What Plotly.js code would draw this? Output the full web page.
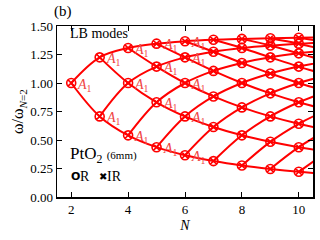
<!DOCTYPE html>
<html>
<head>
<meta charset="utf-8">
<script src="https://cdn.plot.ly/plotly-3.0.1.min.js"></script>
<style>html,body{margin:0;padding:0;background:#fff;}#chart{width:320px;height:240px;}</style>
</head>
<body>
<div id="chart"></div>
<script>
// Number of layers
const layers = [2, 3, 4, 5, 6, 7, 8, 9, 10, 11];
// LB mode frequencies (omega / omega_{N=2}) per layer count, lowest mode first
const w2  = [1.000];
const w3  = [0.707, 1.225];
const w4  = [0.541, 1.000, 1.307];
const w5  = [0.437, 0.831, 1.144, 1.345];
const w6  = [0.366, 0.707, 1.000, 1.225, 1.366];
const w7  = [0.315, 0.614, 0.882, 1.106, 1.274, 1.379];
const w8  = [0.276, 0.541, 0.786, 1.000, 1.176, 1.307, 1.387];
const w9  = [0.246, 0.484, 0.707, 0.909, 1.083, 1.225, 1.329, 1.393];
const w10 = [0.221, 0.437, 0.642, 0.831, 1.000, 1.144, 1.260, 1.345, 1.397];
// continuation past the right edge (only the curves, clipped by the axis)
const w11 = [0.201, 0.398, 0.588, 0.765, 0.926, 1.069, 1.190, 1.286, 1.357, 1.400];
// layer counts whose modes carry an A1 label
const labelledLayers = [2, 3, 4, 5, 6];
const modeLabel = '<i>A</i><sub>1</sub>';

const freqs = [w2, w3, w4, w5, w6, w7, w8, w9, w10, w11];
const shownMax = 10;

const RED = '#ff0000';
const FONT = 'Liberation Serif, Times New Roman, serif';
const traces = [];

// lower branches: fixed mode index j
for (let j = 0; j < freqs.length; j++) {
  const xs = [], ys = [];
  layers.forEach((n, i) => { if (freqs[i].length > j) { xs.push(n); ys.push(freqs[i][j]); } });
  if (xs.length > 1) traces.push({x: xs, y: ys, mode: 'lines', type: 'scatter',
    line: {color: RED, width: 2, shape: 'spline', smoothing: 1}, hoverinfo: 'skip', showlegend: false});
}
// upper branches: fixed (N - j)
for (let m = 1; m < layers.length + 1; m++) {
  const xs = [], ys = [];
  layers.forEach((n, i) => { const k = freqs[i].length - m; if (k >= 0) { xs.push(n); ys.push(freqs[i][k]); } });
  if (xs.length > 1) traces.push({x: xs, y: ys, mode: 'lines', type: 'scatter',
    line: {color: RED, width: 2, shape: 'spline', smoothing: 1}, hoverinfo: 'skip', showlegend: false});
}
// markers
const mx = [], my = [];
layers.forEach((n, i) => { if (n <= shownMax) freqs[i].forEach(v => { mx.push(n); my.push(v); }); });
traces.push({x: mx, y: my, mode: 'markers', type: 'scatter',
  marker: {symbol: 'circle-x-open', size: 9, color: RED, line: {color: RED, width: 1.6}},
  showlegend: false});

const annotations = [];
layers.forEach((n, i) => {
  if (labelledLayers.includes(n)) freqs[i].forEach(v => {
    annotations.push({x: n, y: v, xref: 'x', yref: 'y', text: modeLabel, showarrow: false,
      xanchor: 'left', yanchor: 'middle', xshift: 4, yshift: -2,
      font: {family: FONT, size: 14, color: '#f04545'}});
  });
});
annotations.push(
  {xref: 'paper', yref: 'paper', x: 0.023, y: 1.082, text: '(b)', showarrow: false,
   xanchor: 'center', yanchor: 'middle', font: {family: FONT, size: 15, color: '#000'}},
  {xref: 'paper', yref: 'paper', x: 0.043, y: 0.955, text: 'LB modes', showarrow: false,
   xanchor: 'left', yanchor: 'middle', font: {family: FONT, size: 14, color: '#000'}},
  {xref: 'paper', yref: 'paper', x: 0.043, y: 0.245, text: 'PtO<sub>2</sub> <span style="font-size:11px">(6mm)</span>', showarrow: false,
   xanchor: 'left', yanchor: 'middle', font: {family: FONT, size: 17, color: '#000'}},
  {xref: 'paper', yref: 'paper', x: 0.047, y: 0.118, text: '<b>O</b>', showarrow: false,
   xanchor: 'left', yanchor: 'middle', font: {family: 'DejaVu Sans', size: 11, color: '#000'}},
  {xref: 'paper', yref: 'paper', x: 0.082, y: 0.118, text: 'R', showarrow: false,
   xanchor: 'left', yanchor: 'middle', font: {family: FONT, size: 14, color: '#000'}},
  {xref: 'paper', yref: 'paper', x: 0.155, y: 0.118, text: '<b>✖</b>', showarrow: false,
   xanchor: 'left', yanchor: 'middle', font: {family: 'DejaVu Sans', size: 10, color: '#000'}},
  {xref: 'paper', yref: 'paper', x: 0.186, y: 0.118, text: 'IR', showarrow: false,
   xanchor: 'left', yanchor: 'middle', font: {family: FONT, size: 14, color: '#000'}}
);

const axisCommon = {showline: true, linecolor: '#000', linewidth: 1.5, mirror: 'ticks',
  ticks: 'inside', ticklen: 5, tickwidth: 1, tickcolor: '#000', showgrid: false, zeroline: false,
  tickfont: {family: FONT, size: 13, color: '#000'}};

const layout = {
  width: 320, height: 240,
  margin: {l: 57, r: 7, t: 26, b: 43},
  paper_bgcolor: '#fff', plot_bgcolor: '#fff',
  showlegend: false,
  xaxis: Object.assign({}, axisCommon, {range: [1.5, 10.5], tickvals: [2, 4, 6, 8, 10],
    title: {text: '<i>N</i>', font: {family: FONT, size: 14, color: '#000'}, standoff: 4}}),
  yaxis: Object.assign({}, axisCommon, {range: [0, 1.5], tickvals: [0, 0.25, 0.5, 0.75, 1.0, 1.25, 1.5],
    tickformat: '.2f',
    title: {text: 'ω/ω<sub><i>N</i>=2</sub>', font: {family: FONT, size: 16, color: '#000'}, standoff: 2}}),
  annotations: annotations
};

Plotly.newPlot('chart', traces, layout, {staticPlot: true, displayModeBar: false});
</script>
</body>
</html>
